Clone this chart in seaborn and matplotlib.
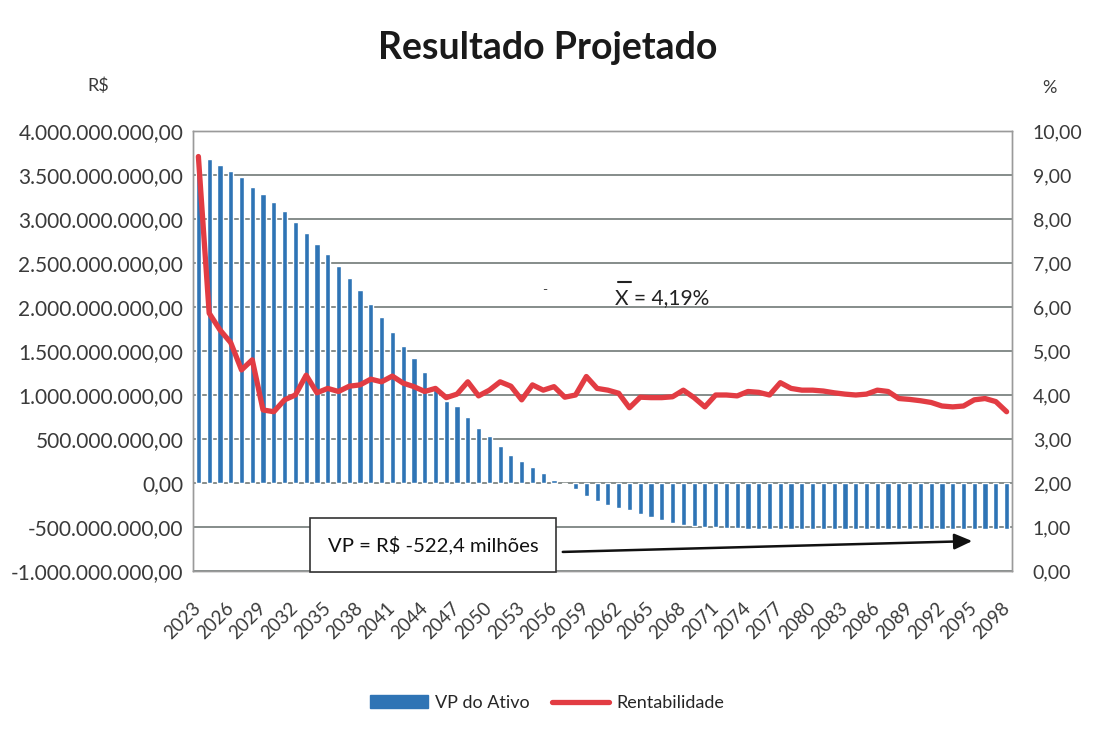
import matplotlib
matplotlib.use("Agg")
import matplotlib.pyplot as plt
from matplotlib.ticker import FuncFormatter, MultipleLocator
from matplotlib.patches import Patch
from matplotlib.lines import Line2D
import numpy as np
import pandas as pd
import seaborn as sns

# anos da projecao
anos = list(range(2023, 2099))

# VP do Ativo, em bilhoes de R$
vp_bi = [
    3.70, 3.68, 3.61, 3.54, 3.48, 3.36, 3.28, 3.19, 3.09, 2.97,
    2.84, 2.72, 2.60, 2.47, 2.33, 2.19, 2.03, 1.89, 1.72, 1.56,
    1.42, 1.26, 1.10, 0.93, 0.87, 0.75, 0.62, 0.53, 0.42, 0.32,
    0.25, 0.18, 0.11, 0.03, -0.01, -0.07, -0.15, -0.20, -0.25, -0.28,
    -0.31, -0.35, -0.39, -0.42, -0.45, -0.48, -0.49, -0.50, -0.50, -0.51,
    -0.515, -0.518, -0.520, -0.520, -0.521, -0.521, -0.522, -0.522, -0.522, -0.523,
    -0.523, -0.523, -0.523, -0.524, -0.524, -0.524, -0.524, -0.524, -0.524, -0.524,
    -0.524, -0.524, -0.524, -0.524, -0.524, -0.524,
]

# Rentabilidade (%)
rentabilidade = [
    9.42, 5.86, 5.48, 5.19, 4.57, 4.80, 3.66, 3.62, 3.89, 4.00,
    4.45, 4.05, 4.15, 4.08, 4.20, 4.23, 4.36, 4.30, 4.43, 4.27,
    4.19, 4.08, 4.15, 3.94, 4.02, 4.30, 3.98, 4.11, 4.30, 4.20,
    3.89, 4.23, 4.11, 4.19, 3.95, 4.00, 4.42, 4.15, 4.11, 4.04,
    3.71, 3.95, 3.94, 3.94, 3.96, 4.11, 3.94, 3.73, 4.00, 4.00,
    3.98, 4.08, 4.06, 4.00, 4.28, 4.15, 4.11, 4.11, 4.09, 4.05,
    4.02, 4.00, 4.02, 4.11, 4.08, 3.92, 3.90, 3.87, 3.83, 3.75,
    3.73, 3.75, 3.89, 3.92, 3.85, 3.62,
]

df = pd.DataFrame({"ano": anos, "vp": np.array(vp_bi) * 1e9, "rent": rentabilidade})

AZUL = "#2f74b5"
VERMELHO = "#e23c43"
TXT = "#3a3a3a"

sns.set_theme(style="white")
plt.rcParams["font.family"] = ["Lato", "DejaVu Sans"]


def fmt_br(v, pos=None):
    s = f"{v:,.2f}"
    return s.replace(",", "X").replace(".", ",").replace("X", ".")


fig = plt.figure(figsize=(10.95, 7.40), dpi=100)
ax = fig.add_axes([193 / 1095, 1 - 571 / 740, 819 / 1095, 440 / 740])

sns.barplot(data=df, x="ano", y="vp", color=AZUL, saturation=1, width=0.48, ax=ax)
ax.set_xlim(-0.5, len(anos) - 0.5)
ax.set_ylim(-1e9, 4e9)
ax.yaxis.set_major_locator(MultipleLocator(5e8))
ax.yaxis.set_major_formatter(FuncFormatter(fmt_br))
ax.grid(axis="y", color="#858c8a", lw=1.4)
ax.set_axisbelow(True)
ax.set_xlabel("")
ax.set_ylabel("")
idx = list(range(0, len(anos), 3))
ax.set_xticks(idx)
ax.set_xticklabels([str(anos[i]) for i in idx], rotation=45, ha="right", va="center",
                   rotation_mode="anchor", fontsize=13.5, color=TXT)
ax.tick_params(axis="y", labelsize=15, colors=TXT, length=0, pad=7)
ax.tick_params(axis="x", length=0, pad=25)
for s in ax.spines.values():
    s.set_color("#9a9a9a")
    s.set_linewidth(1)

ax2 = ax.twinx()
sns.lineplot(x=np.arange(len(anos)), y=df["rent"], color=VERMELHO, lw=3.8, ax=ax2)
ax2.set_ylim(0, 10)
ax2.yaxis.set_major_locator(MultipleLocator(1))
ax2.yaxis.set_major_formatter(FuncFormatter(fmt_br))
ax2.tick_params(axis="y", labelsize=14, colors=TXT, length=0, pad=15)
ax2.set_ylabel("")
ax2.set_xlim(-0.5, len(anos) - 0.5)
for s in ax2.spines.values():
    s.set_color("#9a9a9a")
    s.set_linewidth(1)

fig.text(0.5, 1 - 48 / 740, "Resultado Projetado", ha="center", va="center",
         fontsize=27, fontweight="bold", color="#1a1a1a")
fig.text(98 / 1095, 1 - 86 / 740, "R$", ha="center", va="center", fontsize=13, color=TXT)
fig.text(1049 / 1095, 1 - 88 / 740, "%", ha="center", va="center", fontsize=13, color=TXT)

# media da rentabilidade
fig.text(615 / 1095, 1 - 298 / 740, "X = 4,19%", ha="left", va="center",
         fontsize=15, color="#222222")
fig.add_artist(Line2D([618 / 1095, 631 / 1095], [1 - 282 / 740, 1 - 282 / 740],
                      color="#222222", lw=1.5))
fig.text(545 / 1095, 1 - 290 / 740, "-", ha="center", va="center", fontsize=10, color="#444444")

# caixa do VP final
fig.text(433 / 1095, 1 - 545 / 740, "VP = R$ -522,4 milhões", ha="center", va="center",
         fontsize=14.6, color="#111111",
         bbox=dict(boxstyle="square,pad=0.85", fc="white", ec="#333333", lw=1.2))
ax.annotate("", xy=(975 / 1095, 1 - 541 / 740), xytext=(560 / 1095, 1 - 552 / 740),
            xycoords="figure fraction", textcoords="figure fraction",
            arrowprops=dict(arrowstyle="-|>,head_length=0.9,head_width=0.4",
                            color="#111111", lw=1.8))

handles = [Patch(facecolor=AZUL, edgecolor=AZUL, label="VP do Ativo"),
           Line2D([0], [0], color=VERMELHO, lw=3.8, label="Rentabilidade")]
fig.legend(handles=handles, loc="center", bbox_to_anchor=(0.5, 1 - 703 / 740),
           ncol=2, frameon=False, fontsize=13, handlelength=3.2, columnspacing=1.2,
           handletextpad=0.4)

fig.savefig("out.png", dpi=100)
